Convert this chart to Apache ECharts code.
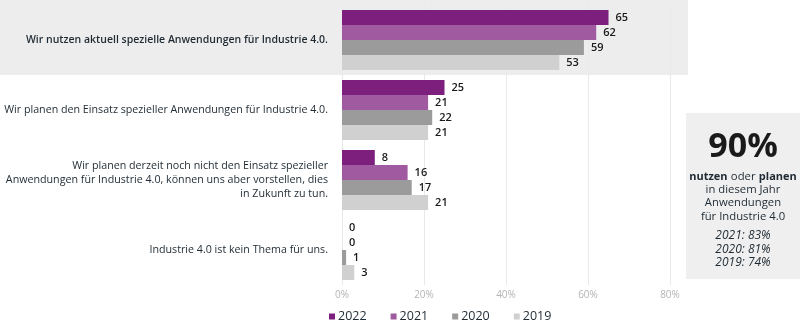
<!DOCTYPE html>
<html>
<head>
<meta charset="utf-8">
<script src="https://cdn.jsdelivr.net/npm/echarts@6/dist/echarts.min.js"></script>
<style>
  html, body { margin: 0; padding: 0; background: #fff; }
  #chart { width: 800px; height: 323px; }
</style>
</head>
<body>
<div id="chart"></div>
<script>
// Survey answers on Industrie 4.0 usage, share of respondents in percent
const categories = [
  'Wir nutzen aktuell spezielle Anwendungen für Industrie 4.0.',
  'Wir planen den Einsatz spezieller Anwendungen für Industrie 4.0.',
  'Wir planen derzeit noch nicht den Einsatz spezieller\nAnwendungen für Industrie 4.0, können uns aber vorstellen, dies\nin Zukunft zu tun.',
  'Industrie 4.0 ist kein Thema für uns.'
];
const years = ['2022', '2021', '2020', '2019'];
const values2022 = [65, 25, 8, 0];
const values2021 = [62, 21, 16, 0];
const values2020 = [59, 22, 17, 1];
const values2019 = [53, 21, 21, 3];
const xTicks = [0, 20, 40, 60, 80];

const headline = '90%';
const previousYears = ['2021: 83%', '2020: 81%', '2019: 74%'];

const FONT = '"Open Sans", "Noto Sans", sans-serif';
const TEXT = '#1f2a33';
const colors = ['#7d1f7c', '#a05a9f', '#9b9b9b', '#d0d0d0'];
const seriesValues = [values2022, values2021, values2020, values2019];

const chart = echarts.init(document.getElementById('chart'), null, { renderer: 'canvas' });

const option = {
  animation: false,
  textStyle: { fontFamily: FONT },
  grid: { left: 342, right: 130, top: 5, height: 280, containLabel: false, outerBoundsMode: 'none' },
  xAxis: {
    type: 'value',
    min: xTicks[0],
    max: xTicks[xTicks.length - 1],
    interval: 20,
    axisLine: { show: false },
    axisTick: { show: false },
    splitLine: { show: true, lineStyle: { color: '#e9e9e9', width: 1 } },
    axisLabel: {
      formatter: '{value}%',
      color: '#b4b4b4',
      fontSize: 10,
      fontFamily: FONT,
      margin: 5
    }
  },
  yAxis: {
    type: 'category',
    data: categories,
    inverse: true,
    axisLine: { show: false },
    axisTick: { show: false },
    splitLine: { show: false },
    axisLabel: {
      margin: 14,
      align: 'right',
      formatter: (v, i) => i === 0 ? '{b|' + v + '}' : '{n|' + v.split('\n').join('}\n{n|') + '}',
      rich: {
        b: { fontSize: 10.5, fontWeight: 600, color: TEXT, fontFamily: FONT, lineHeight: 14, align: 'right' },
        n: { fontSize: 10.7, color: TEXT, fontFamily: FONT, lineHeight: 14, align: 'right' }
      }
    }
  },
  legend: {
    data: years,
    left: 329,
    bottom: 0,
    padding: 0,
    icon: 'rect',
    itemWidth: 6,
    itemHeight: 6,
    itemGap: 24,
    textStyle: { color: TEXT, fontSize: 12.5, fontFamily: FONT, padding: [0, 0, 0, -2] }
  },
  graphic: [
    // highlighted band behind the first answer
    { type: 'rect', z: -1, shape: { x: 0, y: 0, width: 688, height: 75 }, style: { fill: '#ededed' }, silent: true },
    // summary box on the right
    { type: 'rect', z: -1, shape: { x: 686, y: 113, width: 114, height: 166 }, style: { fill: '#efefef' }, silent: true },
    { type: 'text', x: 743, y: 147, style: { text: headline, fill: '#1a1a1a', font: 'bold 34px ' + FONT, align: 'center', verticalAlign: 'middle' } },
    {
      type: 'text', x: 743, y: 170,
      style: {
        text: '{b|nutzen} {n|oder} {b|planen}\n{n|in diesem Jahr}\n{n|Anwendungen}\n{n|für Industrie 4.0}',
        align: 'center',
        verticalAlign: 'top',
        rich: {
          b: { font: 'bold 11px ' + FONT, fill: TEXT, lineHeight: 13.3, align: 'center' },
          n: { font: '11.3px ' + FONT, fill: TEXT, lineHeight: 13.3, align: 'center' }
        }
      }
    },
    {
      type: 'text', x: 743, y: 229,
      style: {
        text: previousYears.join('\n'),
        align: 'center',
        verticalAlign: 'top',
        font: 'italic 12px ' + FONT,
        fill: TEXT,
        lineHeight: 13.5
      }
    }
  ],
  series: years.map((y, k) => ({
    name: y,
    type: 'bar',
    data: seriesValues[k],
    barWidth: 15,
    barGap: '0%',
    itemStyle: { color: colors[k] },
    label: {
      show: true,
      position: 'right',
      distance: 7,
      color: '#1a1a1a',
      fontSize: 11,
      fontWeight: 600,
      fontFamily: FONT
    }
  }))
};

chart.setOption(option);
</script>
</body>
</html>
